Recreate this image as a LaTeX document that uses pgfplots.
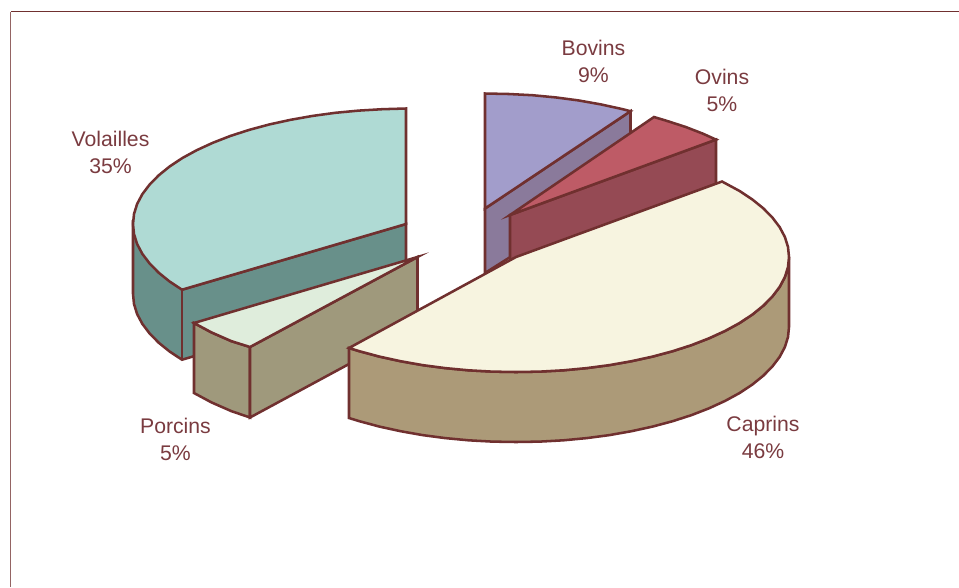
\documentclass[border=0pt]{standalone}
\usepackage{pgfplots}
\pgfplotsset{compat=1.18}
\usepackage{fontspec}
\setmainfont{Liberation Sans}
\definecolor{edge}{HTML}{70302F}
\definecolor{labeltext}{HTML}{7A3B40}
\definecolor{bovT}{HTML}{A29DCB}
\definecolor{bovS}{HTML}{8A7A9B}
\definecolor{oviT}{HTML}{BE5B66}
\definecolor{oviS}{HTML}{954A54}
\definecolor{capT}{HTML}{F7F4E0}
\definecolor{capS}{HTML}{AC9A78}
\definecolor{porT}{HTML}{DFEDDC}
\definecolor{porS}{HTML}{9F997C}
\definecolor{volT}{HTML}{AFDAD4}
\definecolor{volS}{HTML}{68908A}
\pgfplotsset{slice/.style={draw=edge, line width=1.9pt, line join=miter, miter limit=10, fill=#1, mark=none}}
\newcommand{\pielabel}[3]{\node[text=labeltext, align=center, font=\fontsize{15.9}{20.2}\selectfont] at (axis cs:#1,#2) {#3};}
\begin{document}
\begin{tikzpicture}
\begin{axis}[
  scale only axis, width=719.25pt, height=440.25pt,
  xmin=0, xmax=959, ymin=0, ymax=587, y dir=reverse,
  axis lines=none, clip=true]
\path (axis cs:0,0) -- (axis cs:959,587);
% outer frame
\addplot[draw=edge, line width=0.8pt, mark=none] coordinates {(959,11.5) (10.6,11.5)};
\addplot[draw=edge!75, line width=1pt, mark=none] coordinates {(10.6,11.5) (10.6,587)};

% Volailles
\addplot[slice=volS] coordinates {(133,224) (133,294) (134,304) (137.1,314) (142.3,323.8) (149.5,333.3) (158.6,342.6) (169.6,351.5) (182,359.7) (406,294) (406,224) (182,289.7)} --cycle;
\addplot[slice=volS] coordinates {(182,289.7) (182,359.7)};
\addplot[slice=volT] coordinates {(406,224) (406,108.5) (382.2,109.2) (358.6,110.6) (335.3,112.8) (312.6,115.9) (290.6,119.8) (269.5,124.4) (249.4,129.8) (230.5,135.9) (213,142.7) (196.9,150.1) (182.4,158) (169.6,166.5) (158.6,175.4) (149.5,184.7) (142.3,194.2) (137.1,204) (134,214) (133,224) (134,234) (137.1,244) (142.3,253.8) (149.5,263.3) (158.6,272.6) (169.6,281.5) (182,289.7)} --cycle;

% Porcins
\addplot[slice=porS] coordinates {(194,323) (211.5,332.4) (231.3,341.1) (250,347) (250,417.5) (231.3,411.1) (211.5,402.4) (194,393)} --cycle;
\addplot[slice=porS] coordinates {(250,347) (417.5,257) (417.5,327) (250,417.5)} --cycle;
\addplot[slice=porT] coordinates {(417.5,257) (194,323) (211.5,332.4) (231.3,341.1) (250,347)} --cycle;

% Bovins
\addplot[slice=bovS] coordinates {(485,208.5) (630.5,111.2) (630.5,181) (485,273)} --cycle;
\addplot[slice=bovT] coordinates {(485,208.5) (485,93.5) (508.8,94) (532.4,95.2) (555.7,97.4) (578.4,100.4) (600.4,104.3) (621.5,108.9) (630.5,111.2)} --cycle;

% Ovins
\addplot[slice=oviS] coordinates {(510,215) (716,139.6) (716,184) (510,260)} --cycle;
\addplot[slice=oviT] coordinates {(510,215) (654,117) (666.6,120.8) (685.5,126.9) (703,133.7) (716,139.6)} --cycle;

% Caprins
\addplot[slice=capS] coordinates {(349,348) (349,418) (359.4,421.2) (379.5,426.6) (400.6,431.2) (422.6,435.1) (445.3,438.1) (468.6,440.3) (492.2,441.6) (516,442) (539.8,441.6) (563.4,440.3) (586.7,438.1) (609.4,435.1) (631.4,431.2) (652.5,426.6) (672.6,421.2) (691.5,415.1) (709,408.3) (725.1,400.9) (739.6,393) (752.4,384.5) (763.4,375.6) (772.5,366.3) (779.7,356.8) (784.9,347) (788,337) (789,327) (789,257) (788,267) (784.9,277) (779.7,286.8) (772.5,296.3) (763.4,305.6) (752.4,314.5) (739.6,323) (725.1,330.9) (709,338.3) (691.5,345.1) (672.6,351.2) (652.5,356.6) (631.4,361.2) (609.4,365.1) (586.7,368.1) (563.4,370.3) (539.8,371.6) (516,372) (492.2,371.6) (468.6,370.3) (445.3,368.1) (422.6,365.1) (400.6,361.2) (379.5,356.6) (359.4,351.2)} --cycle;
\addplot[slice=capT] coordinates {(516,257) (722,181.5) (739.6,191) (752.4,199.5) (763.4,208.4) (772.5,217.7) (779.7,227.2) (784.9,237) (788,247) (789,257) (788,267) (784.9,277) (779.7,286.8) (772.5,296.3) (763.4,305.6) (752.4,314.5) (739.6,323) (725.1,330.9) (709,338.3) (691.5,345.1) (672.6,351.2) (652.5,356.6) (631.4,361.2) (609.4,365.1) (586.7,368.1) (563.4,370.3) (539.8,371.6) (516,372) (492.2,371.6) (468.6,370.3) (445.3,368.1) (422.6,365.1) (400.6,361.2) (379.5,356.6) (359.4,351.2) (349,348)} --cycle;

% Slice captions
\pielabel{593.5}{61.5}{Bovins\\9\%}
\pielabel{722}{90.5}{Ovins\\5\%}
\pielabel{110.5}{152.5}{Volailles\\35\%}
\pielabel{175.5}{439.5}{Porcins\\5\%}
\pielabel{763}{437.5}{Caprins\\46\%}
\end{axis}
\end{tikzpicture}
\end{document}
